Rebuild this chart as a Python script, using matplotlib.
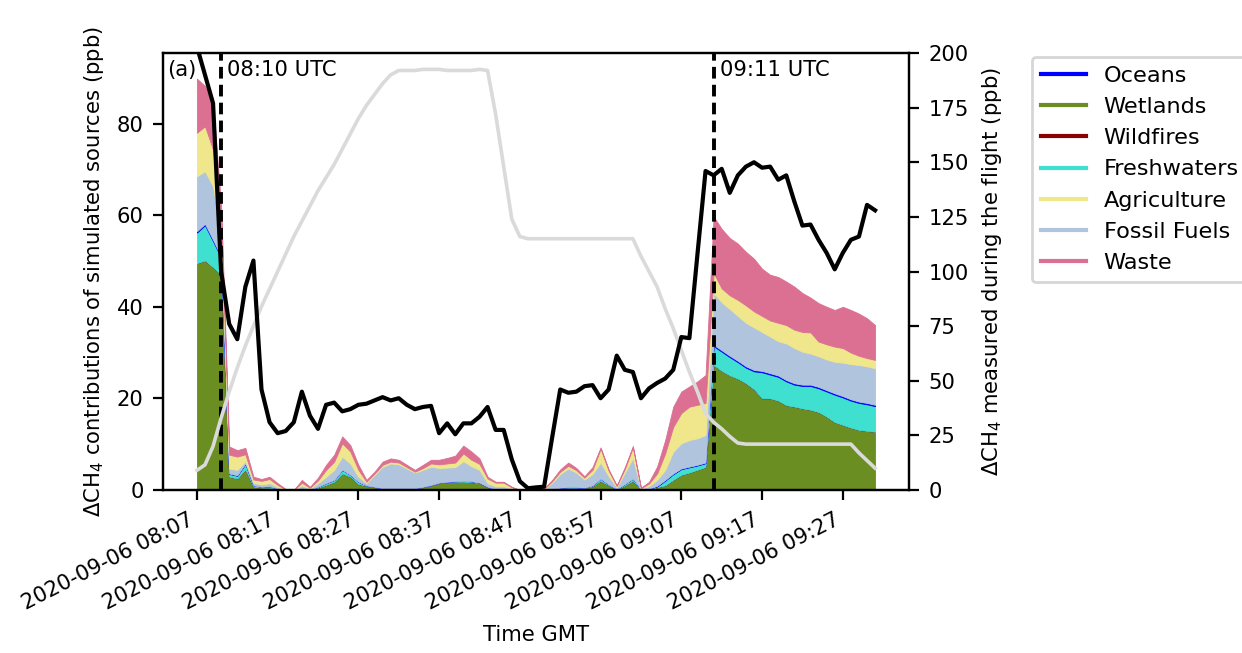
import matplotlib
matplotlib.use("Agg")
import matplotlib.pyplot as plt
import matplotlib.dates as mdates
from matplotlib.lines import Line2D
import pandas as pd

# ---------------- data ----------------
start_time = "2020-09-06 08:07"
tick_labels_times = ["2020-09-06 08:07", "2020-09-06 08:17", "2020-09-06 08:27",
                     "2020-09-06 08:37", "2020-09-06 08:47", "2020-09-06 08:57",
                     "2020-09-06 09:07", "2020-09-06 09:17", "2020-09-06 09:27"]
event_times = ["2020-09-06 08:10", "2020-09-06 09:11"]
event_labels = ["08:10 UTC", "09:11 UTC"]

# measured ΔCH4 (right axis, ppb), one value per minute
measured = [203, 190, 177, 100, 76, 69, 93, 105, 46, 31,
            26, 27, 31, 45, 34, 28, 39, 40, 36, 37,
            39, 39.5, 41, 42.5, 41, 42, 39, 37, 38, 38.5,
            26, 30.5, 25.5, 30.5, 30.5, 33.5, 38, 27.5, 27.5, 14,
            4, 0.8, 1.2, 1.5, 24, 46, 44.5, 45, 47.5, 48,
            42, 46, 61.5, 55, 54, 42, 46.5, 49, 51, 55,
            70, 69.5, 108, 146, 144, 147, 136, 144, 148, 150,
            147.5, 148, 142, 144, 132, 121, 121.5, 114.5, 108.5, 101,
            108.5, 114.5, 116, 130.5, 128]

# grey trace (right axis)
grey_trace = [9, 11.5, 20, 33, 45, 56, 66, 75, 84, 92,
              100, 108, 116, 123, 130, 137, 143, 149, 156, 163,
              170, 176, 181, 186, 190, 192, 192, 192, 192.5, 192.5,
              192.5, 192, 192, 192, 192, 192.5, 192, 172, 148, 124,
              116, 115, 115, 115, 115, 115, 115, 115, 115, 115,
              115, 115, 115, 115, 115, 107, 100, 93, 83, 74,
              64, 54, 45, 35, 31, 28, 24.5, 21.5, 21, 21,
              21, 21, 21, 21, 21, 21, 21, 21, 21, 21,
              21, 21, 17, 13.5, 10]

source_names = ["Oceans", "Wetlands", "Wildfires", "Freshwaters",
                "Agriculture", "Fossil Fuels", "Waste"]
source_colors = ["blue", "olivedrab", "darkred", "turquoise",
                 "khaki", "lightsteelblue", "palevioletred"]

wetlands = [49.5, 50.1, 48.6, 47, 2.9, 2.5, 4.5, 0.7, 0.5, 0.5,
            0.2, 0.05, 0, 0.3, 0.1, 0.5, 1.1, 1.8, 3.6, 2.9,
            1.3, 0.9, 0.6, 0.3, 0.3, 0.3, 0.3, 0.3, 0.6, 1.0,
            1.5, 1.7, 1.8, 1.8, 1.7, 1.5, 0.6, 0.2, 0.2, 0.1,
            0, 0, 0, 0.05, 0.2, 0.3, 0.4, 0.4, 0.4, 0.8,
            2.0, 1.0, 0.1, 1.0, 2.0, 0.05, 0.2, 0.6, 1.0, 2.2,
            3.3, 3.8, 4.4, 5.0, 27.3, 26, 25, 24.3, 23.3, 22,
            20, 20, 19.5, 18.5, 18.2, 17.8, 17.5, 17, 16, 14.8,
            14.2, 13.6, 13.1, 12.9, 12.7]
wildfires = [0] * 85
freshwaters = [6.7, 7.7, 5.7, 3.7, 0.6, 0.6, 1.2, 0.3, 0.2, 0.3,
               0.1, 0, 0, 0.1, 0, 0.2, 0.4, 0.4, 0.8, 0.4,
               0.5, 0.1, 0.1, 0.1, 0.1, 0.1, 0.1, 0.1, 0.1, 0.1,
               0.1, 0.1, 0.1, 0.2, 0.2, 0.1, 0.1, 0, 0, 0,
               0, 0, 0, 0.05, 0.1, 0.2, 0.2, 0.2, 0.1, 0.2,
               0.5, 0.2, 0.1, 0.3, 0.5, 0.05, 0.1, 0.15, 1.05, 1.25,
               1.25, 1.15, 0.95, 0.85, 4.1, 4.2, 4.0, 3.6, 3.4, 3.9,
               5.7, 5.2, 5.2, 5.2, 4.8, 4.9, 5.2, 5.2, 5.5, 6.0,
               6.0, 5.9, 5.9, 5.8, 5.6]
oceans = [0.3, 0.3, 0.3, 0.3, 0.1, 0.1, 0.1, 0, 0, 0,
          0, 0, 0, 0, 0, 0, 0, 0, 0, 0,
          0, 0, 0, 0, 0, 0, 0, 0, 0, 0,
          0, 0, 0, 0, 0, 0, 0, 0, 0, 0,
          0, 0, 0, 0, 0, 0, 0, 0, 0, 0,
          0, 0, 0, 0, 0, 0, 0, 0.15, 0.15, 0.15,
          0.15, 0.15, 0.15, 0.15, 0.3, 0.3, 0.3, 0.3, 0.3, 0.3,
          0.3, 0.3, 0.3, 0.3, 0.3, 0.3, 0.3, 0.3, 0.3, 0.3,
          0.3, 0.3, 0.3, 0.3, 0.3]
fossil_fuels = [12.0, 11.5, 11.7, 5.0, 1.1, 1.2, 0.5, 0.6, 0.5, 0.7,
                0.3, 0.05, 0, 0.6, 0.2, 0.8, 1.4, 2.2, 2.9, 2.5,
                1.1, 0.5, 2.6, 4.7, 5.4, 5.2, 4.3, 3.4, 3.7, 4.0,
                3.2, 3.1, 3.1, 4.3, 3.3, 2.8, 0.8, 0.6, 0.6, 0.2,
                0, 0, 0, 0.1, 1.3, 3.0, 4.1, 3.2, 1.8, 2.5,
                3.5, 1.8, 0.4, 2.5, 4.5, 0.2, 0.6, 1.3, 2.2, 4.8,
                5.5, 5.8, 5.8, 6.0, 11.3, 10.5, 10.2, 9.8, 9.5, 9.3,
                8.5, 8.0, 7.5, 8.0, 7.7, 7.2, 6.8, 6.7, 6.7, 6.9,
                7.3, 7.7, 8.0, 8.0, 8.0]
agriculture = [9.5, 9.8, 8.0, 3.0, 3.0, 2.9, 1.5, 0.7, 0.8, 0.9,
               0.5, 0.05, 0, 0.6, 0.2, 0.6, 1.5, 1.8, 2.9, 2.6,
               1.5, 0.3, 0.3, 0.4, 0.4, 0.4, 0.3, 0.2, 0.4, 0.7,
               0.8, 0.9, 1.0, 1.7, 1.4, 1.3, 1.0, 0.8, 0.8, 0.3,
               0, 0, 0, 0.05, 0.3, 0.5, 0.6, 0.5, 0.4, 0.9,
               3.0, 1.2, 0.3, 0.8, 2.3, 0.1, 0.5, 1.4, 3.6, 5.4,
               6.6, 7.3, 7.3, 7.0, 4.4, 3.0, 3.0, 3.5, 3.8, 3.5,
               3.5, 3.5, 4.0, 4.0, 4.0, 4.3, 4.6, 3.2, 3.3, 3.3,
               3.2, 2.5, 2.0, 1.8, 1.8]
waste = [11.8, 8.8, 10.2, 3.0, 1.8, 1.4, 1.4, 0.6, 0.4, 0.5,
         0.4, 0.05, 0, 0.6, 0.2, 0.6, 1.1, 1.5, 1.5, 1.4,
         1.1, 0.4, 0.4, 0.7, 0.7, 0.6, 0.5, 0.4, 0.7, 0.8,
         1.0, 1.2, 1.5, 1.7, 1.8, 1.2, 0.4, 0.2, 0.2, 0.1,
         0, 0, 0, 0.05, 0.3, 0.5, 0.7, 0.5, 0.3, 0.6,
         0.3, 0.3, 0.1, 0.4, 0.3, 0.1, 0.4, 1.5, 2.9, 4.4,
         4.7, 4.4, 5.1, 6.1, 12.3, 13.0, 12.5, 12.3, 11.7, 11.5,
         10.3, 10.0, 10.0, 9.5, 9.4, 8.5, 7.6, 8.4, 8.2, 8.0,
         9.0, 9.3, 9.2, 8.7, 7.6]

# ---------------- figure ----------------
plt.rcParams['font.family'] = ['DejaVu Sans']
FS = 7.6
DPI = 200
W, H = 1242, 653

times = pd.date_range(start_time, periods=len(measured), freq="1min")

fig = plt.figure(figsize=(W / DPI, H / DPI), dpi=DPI)
ax = fig.add_axes([163 / W, 1 - 490 / H, (909 - 163) / W, (490 - 53) / H])

col = dict(zip(source_names, source_colors))
stack_order = ["Wetlands", "Wildfires", "Freshwaters", "Oceans",
               "Fossil Fuels", "Agriculture", "Waste"]
stack_data = {"Wetlands": wetlands, "Wildfires": wildfires,
              "Freshwaters": freshwaters, "Oceans": oceans,
              "Fossil Fuels": fossil_fuels, "Agriculture": agriculture,
              "Waste": waste}
polys = ax.stackplot(times, *[stack_data[n] for n in stack_order],
                     colors=[col[n] for n in stack_order], linewidth=0.3)
for p, n in zip(polys, stack_order):
    p.set_edgecolor(col[n])

ax.set_ylim(0, 95.4)

for t, lab in zip(event_times, event_labels):
    tt = pd.Timestamp(t)
    ax.axvline(tt, color="black", linestyle="--", linewidth=1.4, dashes=(3.0, 1.6), zorder=5)
    ax.text(tt + pd.Timedelta(seconds=45), 0.962, lab, transform=ax.get_xaxis_transform(),
            fontsize=FS, va="center", ha="left", zorder=6)

ax.text(0.005, 0.962, "(a)", transform=ax.transAxes, fontsize=FS, va="center", ha="left")

ax.set_ylabel("ΔCH$_4$ contributions of simulated sources (ppb)", fontsize=FS)
ax.set_xlabel("Time GMT", fontsize=FS)

ticks = [pd.Timestamp(t) for t in tick_labels_times]
ax.set_xticks(ticks)
ax.xaxis.set_major_formatter(mdates.DateFormatter("%Y-%m-%d %H:%M"))
ax.tick_params(axis="both", labelsize=FS)
for lbl in ax.get_xticklabels():
    lbl.set_rotation(27)
    lbl.set_ha("right")

ax2 = ax.twinx()
ax2.plot(times, grey_trace, color="#dadada", linewidth=1.3)
ax2.plot(times, measured, color="black", linewidth=1.5)
ax2.set_ylim(0, 200)
ax2.set_yticks([0, 25, 50, 75, 100, 125, 150, 175, 200])
ax2.tick_params(axis="y", labelsize=FS)
ax2.set_ylabel("ΔCH$_4$ measured during the flight (ppb)", fontsize=FS)

handles = [Line2D([0], [0], color=col[n], linewidth=1.5) for n in source_names]
fig.legend(handles, source_names, loc="upper left",
           bbox_to_anchor=(1032 / W, 1 - 57 / H), fontsize=8.05,
           borderaxespad=0)

fig.savefig("out.png", dpi=DPI)
